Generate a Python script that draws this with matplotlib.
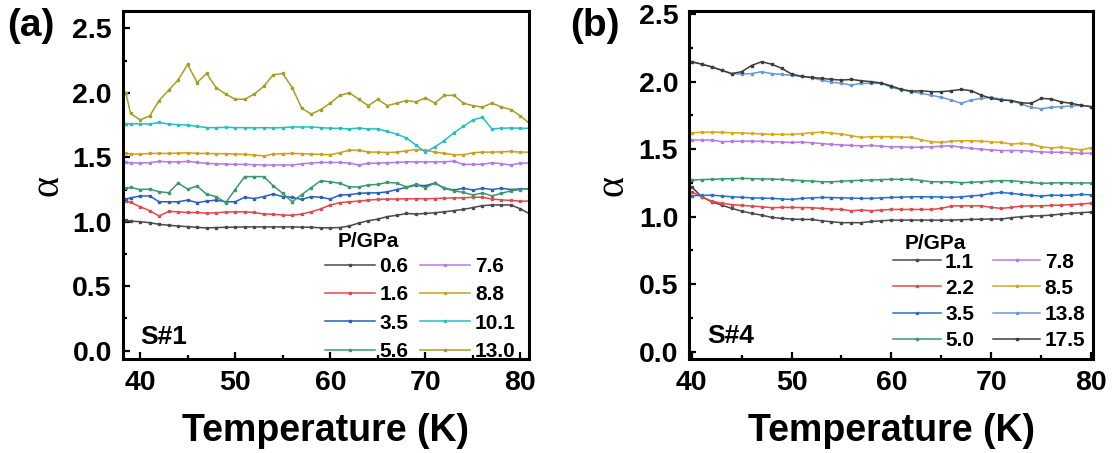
import matplotlib
matplotlib.use('Agg')
import matplotlib.pyplot as plt
from matplotlib.ticker import MultipleLocator

plt.rcParams['font.family'] = ['Liberation Sans', 'DejaVu Sans']
plt.rcParams['font.weight'] = 'bold'

# ---- panel (a): S#1 ----
T_a = [38.5] + list(range(39, 82))
p06 = [1.01, 1.005, 1.0, 0.993, 0.98, 0.973, 0.967, 0.962, 0.957, 0.952, 0.955, 0.957, 0.958, 0.96, 0.96,
       0.96, 0.96, 0.96, 0.96, 0.958, 0.957, 0.953, 0.953, 0.955, 0.967, 0.99, 1.008, 1.02, 1.04, 1.05,
       1.064, 1.06, 1.064, 1.07, 1.077, 1.086, 1.096, 1.11, 1.125, 1.13, 1.13, 1.13, 1.10, 1.06]
p16 = [1.16, 1.15, 1.117, 1.086, 1.045, 1.08, 1.077, 1.072, 1.072, 1.066, 1.07, 1.075, 1.077, 1.077, 1.072,
       1.06, 1.058, 1.052, 1.05, 1.06, 1.077, 1.10, 1.13, 1.148, 1.155, 1.16, 1.168, 1.173, 1.176, 1.176,
       1.178, 1.178, 1.178, 1.18, 1.183, 1.185, 1.186, 1.19, 1.19, 1.176, 1.17, 1.165, 1.16, 1.16]
p35 = [1.176, 1.185, 1.20, 1.20, 1.155, 1.155, 1.155, 1.168, 1.148, 1.16, 1.168, 1.155, 1.155, 1.19, 1.18,
       1.195, 1.215, 1.195, 1.19, 1.173, 1.195, 1.19, 1.176, 1.207, 1.21, 1.22, 1.224, 1.224, 1.232, 1.25,
       1.266, 1.284, 1.28, 1.30, 1.26, 1.246, 1.26, 1.246, 1.26, 1.25, 1.26, 1.25, 1.255, 1.255]
p56 = [1.26, 1.266, 1.25, 1.253, 1.233, 1.225, 1.30, 1.253, 1.277, 1.213, 1.195, 1.148, 1.25, 1.35, 1.35,
       1.35, 1.28, 1.22, 1.155, 1.21, 1.265, 1.318, 1.31, 1.298, 1.27, 1.27, 1.285, 1.29, 1.305, 1.30,
       1.27, 1.29, 1.264, 1.30, 1.26, 1.24, 1.228, 1.207, 1.224, 1.20, 1.22, 1.24, 1.25, 1.26]
p76 = [1.46, 1.458, 1.455, 1.458, 1.468, 1.465, 1.463, 1.468, 1.46, 1.453, 1.45, 1.447, 1.445, 1.445, 1.443,
       1.44, 1.44, 1.44, 1.44, 1.45, 1.455, 1.46, 1.46, 1.46, 1.455, 1.44, 1.453, 1.455, 1.458, 1.46,
       1.465, 1.465, 1.465, 1.465, 1.465, 1.47, 1.445, 1.445, 1.445, 1.458, 1.45, 1.44, 1.455, 1.455]
p88 = [1.53, 1.525, 1.525, 1.53, 1.53, 1.53, 1.532, 1.535, 1.53, 1.53, 1.528, 1.528, 1.525, 1.522, 1.518,
       1.51, 1.525, 1.528, 1.53, 1.528, 1.525, 1.522, 1.52, 1.535, 1.555, 1.555, 1.54, 1.54, 1.537, 1.54,
       1.55, 1.56, 1.555, 1.54, 1.53, 1.52, 1.52, 1.535, 1.54, 1.54, 1.542, 1.545, 1.54, 1.54]
p101 = [1.758, 1.76, 1.76, 1.758, 1.77, 1.758, 1.753, 1.75, 1.74, 1.73, 1.73, 1.732, 1.73, 1.73, 1.728,
        1.73, 1.728, 1.73, 1.735, 1.735, 1.735, 1.73, 1.725, 1.725, 1.72, 1.727, 1.72, 1.72, 1.70, 1.68,
        1.65, 1.595, 1.54, 1.58, 1.63, 1.69, 1.74, 1.79, 1.81, 1.72, 1.725, 1.728, 1.725, 1.725]
p130 = [2.0, 1.84, 1.79, 1.82, 1.94, 2.02, 2.10, 2.22, 2.08, 2.15, 2.04, 1.99, 1.95, 1.95, 1.99,
        2.05, 2.14, 2.15, 2.04, 1.88, 1.835, 1.87, 1.92, 1.98, 2.0, 1.95, 1.90, 1.95, 1.90, 1.92,
        1.94, 1.93, 1.96, 1.92, 1.98, 1.98, 1.92, 1.90, 1.89, 1.92, 1.89, 1.87, 1.82, 1.76]

labels_a = ['0.6', '1.6', '3.5', '5.6', '7.6', '8.8', '10.1', '13.0']
series_a = [p06, p16, p35, p56, p76, p88, p101, p130]
colors_a = ['#4a4a4a', '#e04a4a', '#2a5fbf', '#3a9a6a', '#b47ae6', '#c9a21c', '#22c2c2', '#a3a024']

# ---- panel (b): S#4 ----
T_b = list(range(40, 81))
q11 = [1.222, 1.148, 1.111, 1.086, 1.062, 1.042, 1.025, 1.012, 0.995, 0.988, 0.983, 0.98, 0.98, 0.97,
       0.963, 0.956, 0.956, 0.956, 0.965, 0.97, 0.975, 0.975, 0.975, 0.975, 0.975, 0.975, 0.975, 0.978,
       0.98, 0.982, 0.983, 0.983, 0.993, 1.0, 1.005, 1.007, 1.012, 1.02, 1.025, 1.03, 1.035]
q22 = [1.185, 1.148, 1.116, 1.10, 1.09, 1.084, 1.079, 1.074, 1.067, 1.069, 1.069, 1.068, 1.067, 1.062,
       1.057, 1.054, 1.044, 1.05, 1.044, 1.05, 1.054, 1.054, 1.054, 1.054, 1.054, 1.062, 1.079, 1.081,
       1.081, 1.081, 1.069, 1.062, 1.069, 1.079, 1.08, 1.081, 1.084, 1.086, 1.09, 1.095, 1.10]
q35 = [1.156, 1.158, 1.16, 1.154, 1.148, 1.144, 1.14, 1.138, 1.136, 1.132, 1.128, 1.136, 1.14, 1.143,
       1.142, 1.14, 1.138, 1.136, 1.136, 1.14, 1.143, 1.145, 1.148, 1.148, 1.148, 1.146, 1.143, 1.148,
       1.154, 1.16, 1.173, 1.18, 1.173, 1.165, 1.158, 1.153, 1.16, 1.158, 1.16, 1.165, 1.162]
q50 = [1.272, 1.275, 1.277, 1.28, 1.282, 1.284, 1.282, 1.28, 1.279, 1.276, 1.272, 1.268, 1.264, 1.259,
       1.259, 1.263, 1.267, 1.27, 1.272, 1.275, 1.277, 1.277, 1.277, 1.268, 1.259, 1.259, 1.259, 1.252,
       1.255, 1.259, 1.263, 1.267, 1.267, 1.26, 1.254, 1.247, 1.25, 1.252, 1.25, 1.25, 1.25]
q78 = [1.568, 1.568, 1.568, 1.556, 1.558, 1.56, 1.56, 1.558, 1.556, 1.553, 1.55, 1.553, 1.548, 1.542,
       1.536, 1.532, 1.528, 1.525, 1.528, 1.522, 1.518, 1.518, 1.514, 1.516, 1.518, 1.522, 1.526, 1.514,
       1.507, 1.50, 1.495, 1.49, 1.49, 1.49, 1.485, 1.48, 1.478, 1.477, 1.475, 1.47, 1.47]
q85 = [1.622, 1.625, 1.627, 1.625, 1.622, 1.62, 1.617, 1.613, 1.61, 1.61, 1.61, 1.615, 1.622, 1.627,
       1.62, 1.612, 1.60, 1.588, 1.593, 1.593, 1.593, 1.59, 1.588, 1.57, 1.556, 1.55, 1.56, 1.563,
       1.562, 1.56, 1.555, 1.55, 1.538, 1.543, 1.538, 1.518, 1.51, 1.515, 1.505, 1.495, 1.512]
q138 = [2.148, 2.13, 2.11, 2.085, 2.06, 2.057, 2.06, 2.074, 2.06, 2.054, 2.047, 2.04, 2.03, 2.012,
        1.997, 1.988, 1.975, 1.988, 1.988, 1.988, 1.958, 1.94, 1.926, 1.914, 1.90, 1.884, 1.864, 1.84,
        1.864, 1.877, 1.884, 1.87, 1.86, 1.835, 1.81, 1.80, 1.81, 1.815, 1.82, 1.825, 1.815]
q175 = [2.148, 2.13, 2.11, 2.085, 2.06, 2.074, 2.12, 2.148, 2.13, 2.10, 2.057, 2.04, 2.032, 2.025,
        2.017, 2.012, 2.017, 2.007, 2.0, 1.99, 1.968, 1.943, 1.93, 1.933, 1.926, 1.926, 1.933, 1.943,
        1.933, 1.90, 1.877, 1.864, 1.86, 1.844, 1.84, 1.877, 1.872, 1.85, 1.84, 1.825, 1.815]

labels_b = ['1.1', '2.2', '3.5', '5.0', '7.8', '8.5', '13.8', '17.5']
series_b = [q11, q22, q35, q50, q78, q85, q138, q175]
colors_b = ['#4a4a4a', '#e04a4a', '#2a6fcf', '#3a9a6a', '#b47ae6', '#d4a91a', '#6a9ad2', '#3c3c3c']

fig = plt.figure(figsize=(11.16, 4.53), dpi=100)
ax_a = fig.add_axes([0.1102, 0.2068, 0.3638, 0.7696])
ax_b = fig.add_axes([0.6176, 0.2068, 0.3618, 0.7696])


def style(ax, xlim, ylim, sample, tag, leg_xy, leg_sp, col_sp, hl, txt_xy, ylab_x):
    ax.set_xlim(*xlim)
    ax.set_ylim(*ylim)
    ax.xaxis.set_major_locator(MultipleLocator(10))
    ax.xaxis.set_minor_locator(MultipleLocator(5))
    ax.yaxis.set_major_locator(MultipleLocator(0.5))
    ax.yaxis.set_minor_locator(MultipleLocator(0.25))
    ax.tick_params(which='both', direction='in', top=False, right=False, labelsize=20.5, width=1.6)
    ax.tick_params(which='major', length=5, pad=8)
    ax.tick_params(which='minor', length=3)
    for lab in ax.get_xticklabels() + ax.get_yticklabels():
        lab.set_fontweight('bold')
    for sp in ax.spines.values():
        sp.set_linewidth(2.2)
    ax.set_xlabel('Temperature (K)', fontsize=27, fontweight='bold')
    ax.xaxis.set_label_coords(0.5, -0.155)
    ax.set_ylabel('α', fontsize=29, fontweight='normal', family='Liberation Serif')
    ax.yaxis.set_label_coords(ylab_x, 0.5)
    ax.text(sample[0], sample[1], tag, fontsize=19, fontweight='bold', va='baseline')
    leg = ax.legend(ncol=2, frameon=False, loc='upper left', bbox_to_anchor=leg_xy,
                    fontsize=15, borderpad=0, borderaxespad=0, handlelength=hl,
                    handletextpad=0.22, labelspacing=leg_sp, columnspacing=col_sp)
    for t in leg.get_texts():
        t.set_fontweight('bold')
    ax.text(txt_xy[0], txt_xy[1], 'P/GPa', transform=ax.transAxes, fontsize=15,
            fontweight='bold', va='baseline')


for s, lab, c in zip(series_a, labels_a, colors_a):
    ax_a.plot(T_a, s, '-s', color=c, lw=1.1, ms=2.0, label=lab)
for s, lab, c in zip(series_b, labels_b, colors_b):
    ax_b.plot(T_b, s, '-s', color=c, lw=1.1, ms=1.6, label=lab)

style(ax_a, (38.2, 80.9), (-0.067, 2.637), (40.0, 0.05), 'S#1',
      (0.4975, 0.2935), 0.45, 0.56, 2.4, (0.5296, 0.322), -0.138)
style(ax_b, (39.76, 80.18), (-0.056, 2.526), (41.6, 0.062), 'S#4',
      (0.5057, 0.306), 0.34, 0.9, 2.26, (0.5343, 0.3176), -0.142)

fig.text(7 / 1116, 1 - 8 / 453, '(a)', fontsize=28, fontweight='bold', va='top')
fig.text(570 / 1116, 1 - 8 / 453, '(b)', fontsize=28, fontweight='bold', va='top')

fig.savefig('out.png', dpi=100)
